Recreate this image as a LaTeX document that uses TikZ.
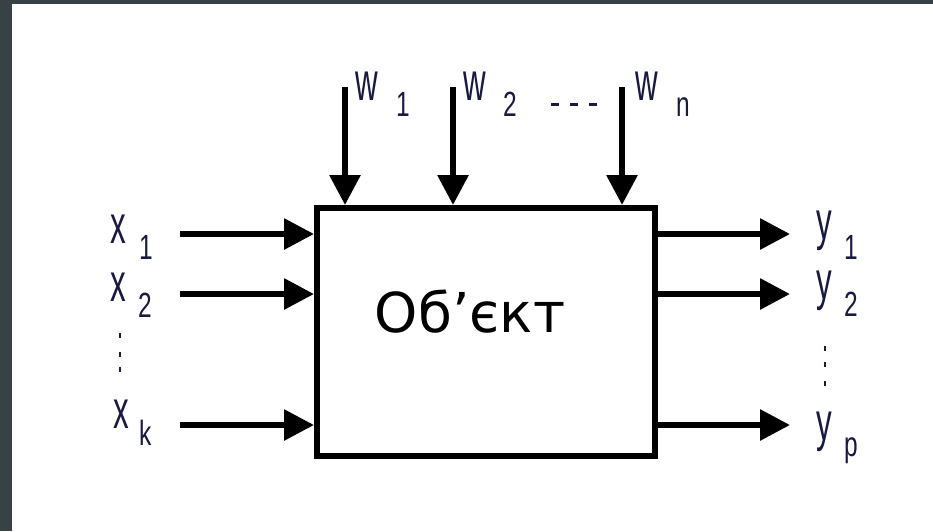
\documentclass[tikz,border=0pt]{standalone}
\usepackage{fontspec}
\setmainfont{Liberation Sans}
\newfontfamily\boxfont{DejaVu Sans}
\usepackage{graphicx}
\usetikzlibrary{arrows.meta, positioning}

\definecolor{framegray}{RGB}{55,65,70}
\definecolor{labelink}{RGB}{25,25,65}
\newcommand{\narrow}[1]{\scalebox{0.58}[1]{#1}}
\newcommand{\narrowidx}[1]{\scalebox{0.7}[1]{#1}}

\tikzset{
  sig/.style={line width=6pt, -{Triangle[length=30pt,width=30pt]}},
  letter/.style={inner sep=0pt, anchor=base west, text=labelink, font=\fontsize{54}{54}\selectfont},
  idx/.style={inner sep=0pt, anchor=base west, text=labelink, font=\fontsize{35}{35}\selectfont},
  dotmark/.style={fill=labelink},
}

\begin{document}
\begin{tikzpicture}[x=1pt, y=-1pt]
    \fill[framegray] (0,0) rectangle (933,531);
    \fill[white] (12,4) rectangle (933,531);
    \useasboundingbox (0,0) rectangle (933,531);

    \node[draw, line width=6pt, minimum width=338pt, minimum height=248pt, inner sep=0pt] (obj) at (486,332) {};
    \node[font=\boxfont\fontsize{55}{55}\selectfont, inner sep=0pt] (objname) at (470,312) {Об’єкт};

    % inputs and outputs
    \foreach \n/\y in {1/234, 2/294, k/425} {
        \coordinate (in\n) at (180,\y);
        \draw[sig] (in\n) -- (obj.west |- in\n);
    }
    \foreach \n/\y in {1/234, 2/294, p/425} {
        \coordinate (out\n) at (790,\y);
        \draw[sig] (obj.east |- out\n) -- (out\n);
    }
    \foreach \n/\x in {1/345, 2/453, n/622} {
        \coordinate (dist\n) at (\x,87);
        \draw[sig] (dist\n) -- (dist\n |- obj.north);
    }

    % labels
    \foreach \n/\l/\s/\xa/\ya/\xb/\yb in {x1/x/1/110/243/139/259, x2/x/2/110/301/138/317, xk/x/k/113/428/139/445,
        y1/y/1/816/239/844/259, y2/y/2/816/299/844/316, yp/y/p/816/440/844/456,
        w1/w/1/355/100/396/116, w2/w/2/463/100/503/116, wn/w/n/635/100/676/116} {
        \node[letter] (l\n) at (\xa,\ya) {\narrow{\l}};
        \node[idx] (s\n) at (\xb,\yb) {\narrowidx{\s}};
    }

    % dots
    \foreach \y in {333, 352, 367}
        \fill[dotmark] (118.5,\y) rectangle +(2.5,5);
    \foreach \y in {346, 362, 381}
        \fill[dotmark] (823.5,\y) rectangle +(2.5,5);
    \foreach \x in {551, 570, 589}
        \fill[dotmark] (\x,103) rectangle +(8,2.5);
\end{tikzpicture}
\end{document}
